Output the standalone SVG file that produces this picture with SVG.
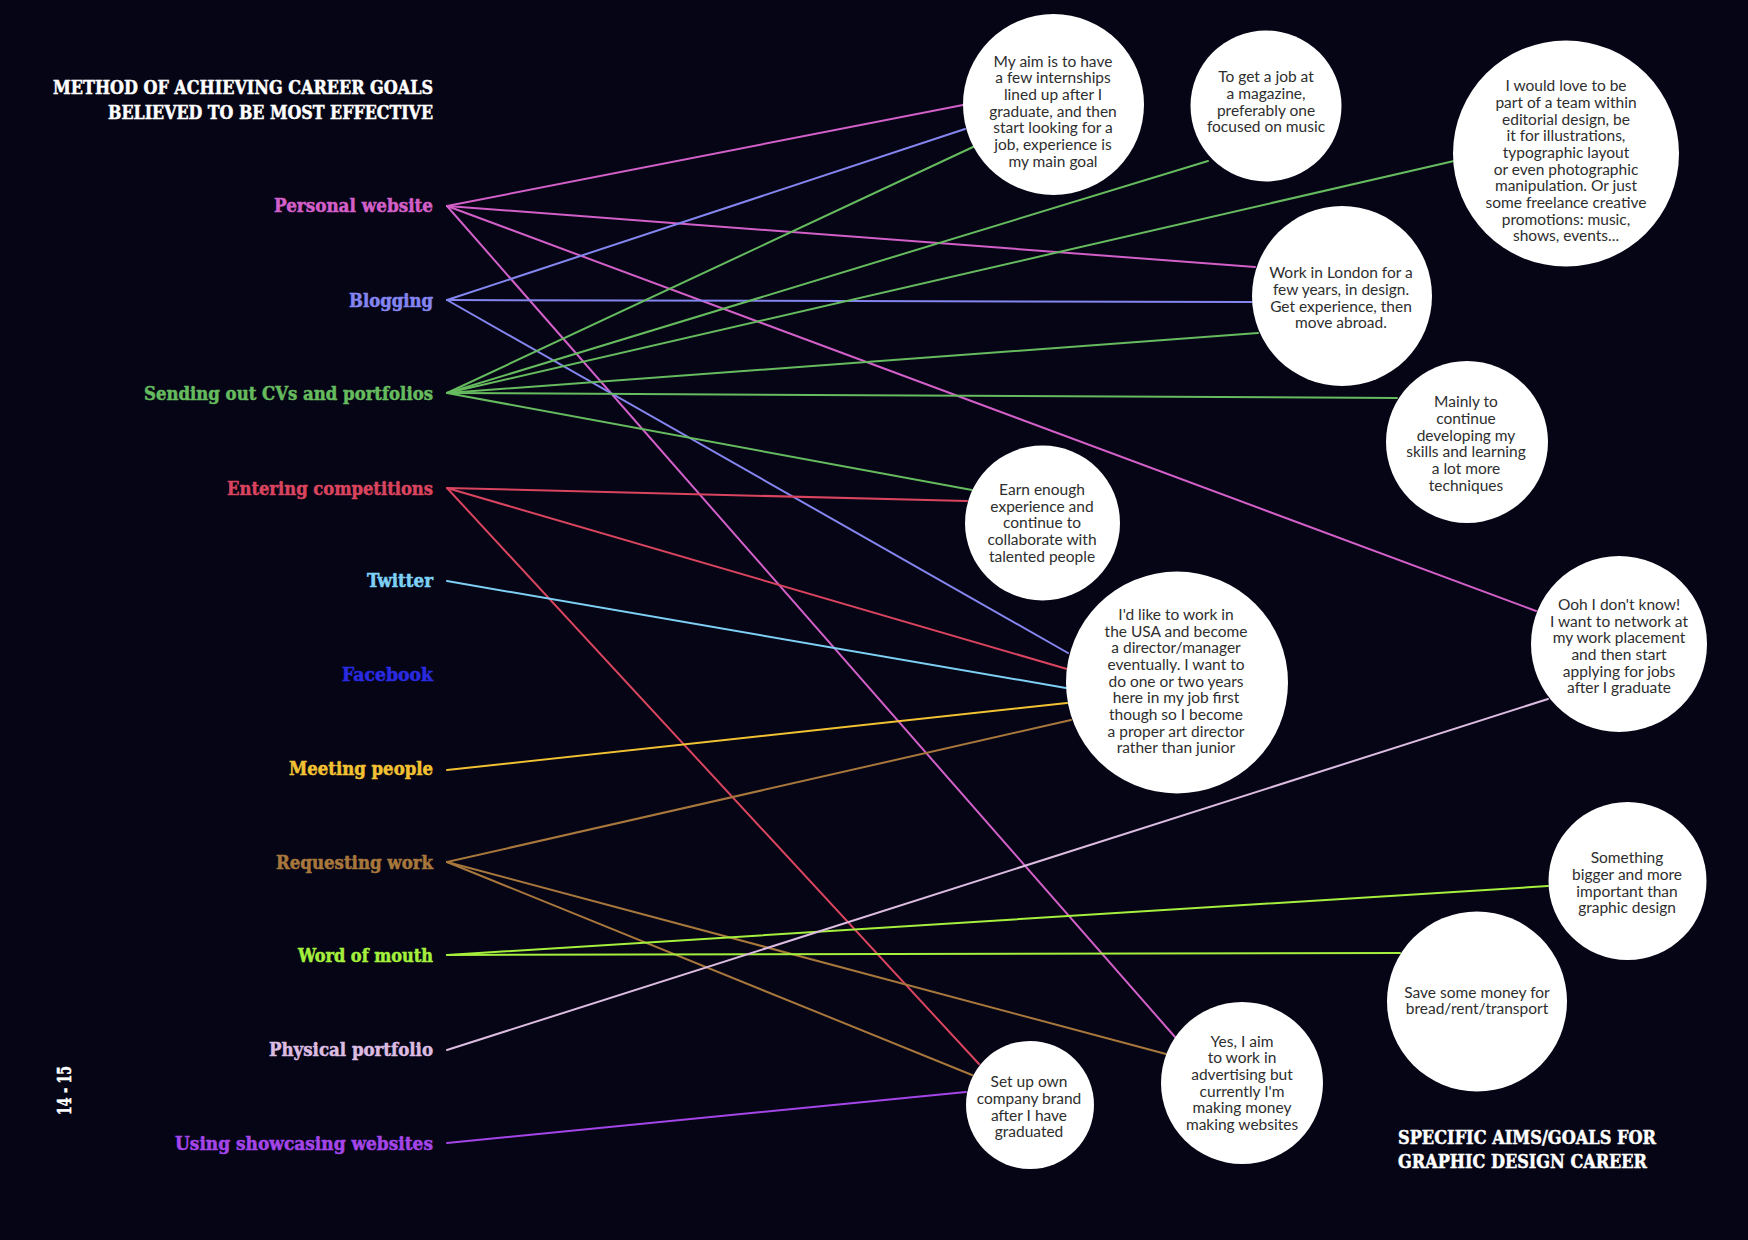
<svg xmlns="http://www.w3.org/2000/svg" width="1748" height="1240" viewBox="0 0 1748 1240">
<style>
.bg{fill:#050516}
.lbl{font-family:"DejaVu Serif Condensed","DejaVu Serif",serif;font-weight:bold;font-size:18px;font-stretch:condensed;text-anchor:end;stroke-width:0.5}
.hd{font-family:"DejaVu Serif Condensed","DejaVu Serif",serif;font-weight:bold;font-size:19px;font-stretch:condensed;fill:#ffffff;stroke:#ffffff;stroke-width:0.5}
.c{fill:#ffffff}
.ct{font-family:Lato,"Open Sans",sans-serif;font-size:15.5px;fill:#2e2e2e;text-anchor:middle}
.ln{fill:none;stroke-width:2;stroke-linecap:round}
.pw{stroke:#d35fc8}.bl{stroke:#8585f0}.cv{stroke:#66bb5e}.ec{stroke:#d9445e}.tw{stroke:#7ed0f5}
.mp{stroke:#f2c232}.rw{stroke:#a8773c}.wm{stroke:#a5f03c}.pp{stroke:#dcbce0}.us{stroke:#a445e8}
</style>
<rect class="bg" x="0" y="0" width="1748" height="1240"/>

<g id="titles">
<text class="hd" x="433" y="94" text-anchor="end" textLength="380" lengthAdjust="spacingAndGlyphs">METHOD OF ACHIEVING CAREER GOALS</text>
<text class="hd" x="433" y="119" text-anchor="end" textLength="325" lengthAdjust="spacingAndGlyphs">BELIEVED TO BE MOST EFFECTIVE</text>
<text class="hd" x="1398" y="1144" textLength="258" lengthAdjust="spacingAndGlyphs">SPECIFIC AIMS/GOALS FOR</text>
<text class="hd" x="1398" y="1168" textLength="249" lengthAdjust="spacingAndGlyphs">GRAPHIC DESIGN CAREER</text>
<text class="hd" x="0" y="0" text-anchor="middle" transform="translate(71 1090.5) rotate(-90)" textLength="49" lengthAdjust="spacingAndGlyphs">14 - 15</text>
</g>

<g id="connectors">
<line class="ln pw" x1="447" y1="206" x2="963" y2="105"/>
<line class="ln pw" x1="447" y1="206" x2="1255" y2="267"/>
<line class="ln pw" x1="447" y1="206" x2="1536" y2="611"/>
<line class="ln pw" x1="447" y1="206" x2="1175" y2="1037"/>
<line class="ln bl" x1="447" y1="300" x2="965" y2="129"/>
<line class="ln bl" x1="447" y1="300" x2="1252" y2="302"/>
<line class="ln bl" x1="447" y1="300" x2="1068" y2="653"/>
<line class="ln cv" x1="447" y1="393" x2="973" y2="147"/>
<line class="ln cv" x1="447" y1="393" x2="1208" y2="161"/>
<line class="ln cv" x1="447" y1="393" x2="1454" y2="161"/>
<line class="ln cv" x1="447" y1="393" x2="1258" y2="333"/>
<line class="ln cv" x1="447" y1="393" x2="1397" y2="398"/>
<line class="ln cv" x1="447" y1="393" x2="972" y2="490"/>
<line class="ln ec" x1="447" y1="488" x2="967" y2="501"/>
<line class="ln ec" x1="447" y1="488" x2="1067" y2="669"/>
<line class="ln ec" x1="447" y1="488" x2="979" y2="1064"/>
<line class="ln tw" x1="447" y1="581" x2="1066" y2="688"/>
<line class="ln mp" x1="447" y1="770" x2="1067" y2="703"/>
<line class="ln rw" x1="447" y1="862" x2="1071" y2="720"/>
<line class="ln rw" x1="447" y1="862" x2="1166" y2="1054"/>
<line class="ln rw" x1="447" y1="862" x2="972" y2="1075"/>
<line class="ln wm" x1="447" y1="955" x2="1548" y2="886"/>
<line class="ln wm" x1="447" y1="955" x2="1400" y2="953"/>
<line class="ln pp" x1="447" y1="1050" x2="1548" y2="699"/>
<line class="ln us" x1="447" y1="1143" x2="966" y2="1092"/>
</g>

<g id="labels">
<text id="m-personal" class="lbl" x="433" y="212" fill="#d35fc8" stroke="#d35fc8" textLength="159" lengthAdjust="spacingAndGlyphs">Personal website</text>
<text id="m-blogging" class="lbl" x="433" y="306.5" fill="#8585f0" stroke="#8585f0" textLength="84" lengthAdjust="spacingAndGlyphs">Blogging</text>
<text id="m-cvs" class="lbl" x="433" y="400" fill="#66bb5e" stroke="#66bb5e" textLength="289" lengthAdjust="spacingAndGlyphs">Sending out CVs and portfolios</text>
<text id="m-competitions" class="lbl" x="433" y="494.5" fill="#d9445e" stroke="#d9445e" textLength="206" lengthAdjust="spacingAndGlyphs">Entering competitions</text>
<text id="m-twitter" class="lbl" x="433" y="587" fill="#7ed0f5" stroke="#7ed0f5" textLength="66" lengthAdjust="spacingAndGlyphs">Twitter</text>
<text id="m-facebook" class="lbl" x="433" y="681" fill="#2a2ae0" stroke="#2a2ae0" textLength="91" lengthAdjust="spacingAndGlyphs">Facebook</text>
<text id="m-meeting" class="lbl" x="433" y="775" fill="#f2c232" stroke="#f2c232" textLength="144" lengthAdjust="spacingAndGlyphs">Meeting people</text>
<text id="m-requesting" class="lbl" x="433" y="869" fill="#a8773c" stroke="#a8773c" textLength="157" lengthAdjust="spacingAndGlyphs">Requesting work</text>
<text id="m-word" class="lbl" x="433" y="962" fill="#a5f03c" stroke="#a5f03c" textLength="135" lengthAdjust="spacingAndGlyphs">Word of mouth</text>
<text id="m-physical" class="lbl" x="433" y="1056" fill="#dcbce0" stroke="#dcbce0" textLength="164" lengthAdjust="spacingAndGlyphs">Physical portfolio</text>
<text id="m-showcasing" class="lbl" x="433" y="1150" fill="#a445e8" stroke="#a445e8" textLength="258" lengthAdjust="spacingAndGlyphs">Using showcasing websites</text>
</g>

<g id="goal-internships">
<circle class="c" cx="1053.5" cy="104.5" r="90.5"/>
<text class="ct" y="66.5"><tspan x="1053" dy="0">My aim is to have</tspan><tspan x="1053" dy="16.7">a few internships</tspan><tspan x="1053" dy="16.7">lined up after I</tspan><tspan x="1053" dy="16.7">graduate, and then</tspan><tspan x="1053" dy="16.7">start looking for a</tspan><tspan x="1053" dy="16.7">job, experience is</tspan><tspan x="1053" dy="16.7">my main goal</tspan></text>
</g>
<g id="goal-magazine">
<circle class="c" cx="1266" cy="106" r="75.5"/>
<text class="ct" y="82.2"><tspan x="1266" dy="0">To get a job at</tspan><tspan x="1266" dy="16.7">a magazine,</tspan><tspan x="1266" dy="16.7">preferably one</tspan><tspan x="1266" dy="16.7">focused on music</tspan></text>
</g>
<g id="goal-editorial">
<circle class="c" cx="1566" cy="153.5" r="113"/>
<text class="ct" y="91.2"><tspan x="1566" dy="0">I would love to be</tspan><tspan x="1566" dy="16.7">part of a team within</tspan><tspan x="1566" dy="16.7">editorial design, be</tspan><tspan x="1566" dy="16.7">it for illustrations,</tspan><tspan x="1566" dy="16.7">typographic layout</tspan><tspan x="1566" dy="16.7">or even photographic</tspan><tspan x="1566" dy="16.7">manipulation. Or just</tspan><tspan x="1566" dy="16.7">some freelance creative</tspan><tspan x="1566" dy="16.7">promotions: music,</tspan><tspan x="1566" dy="16.7">shows, events...</tspan></text>
</g>
<g id="goal-london">
<circle class="c" cx="1342" cy="296" r="90"/>
<text class="ct" y="278.2"><tspan x="1341" dy="0">Work in London for a</tspan><tspan x="1341" dy="16.7">few years, in design.</tspan><tspan x="1341" dy="16.7">Get experience, then</tspan><tspan x="1341" dy="16.7">move abroad.</tspan></text>
</g>
<g id="goal-skills">
<circle class="c" cx="1467" cy="442" r="81"/>
<text class="ct" y="407.2"><tspan x="1466" dy="0">Mainly to</tspan><tspan x="1466" dy="16.7">continue</tspan><tspan x="1466" dy="16.7">developing my</tspan><tspan x="1466" dy="16.7">skills and learning</tspan><tspan x="1466" dy="16.7">a lot more</tspan><tspan x="1466" dy="16.7">techniques</tspan></text>
</g>
<g id="goal-collaborate">
<circle class="c" cx="1042.5" cy="523" r="77.5"/>
<text class="ct" y="494.8"><tspan x="1042" dy="0">Earn enough</tspan><tspan x="1042" dy="16.7">experience and</tspan><tspan x="1042" dy="16.7">continue to</tspan><tspan x="1042" dy="16.7">collaborate with</tspan><tspan x="1042" dy="16.7">talented people</tspan></text>
</g>
<g id="goal-usa">
<circle class="c" cx="1177" cy="682.5" r="111"/>
<text class="ct" y="619.8"><tspan x="1176" dy="0">I'd like to work in</tspan><tspan x="1176" dy="16.7">the USA and become</tspan><tspan x="1176" dy="16.7">a director/manager</tspan><tspan x="1176" dy="16.7">eventually. I want to</tspan><tspan x="1176" dy="16.7">do one or two years</tspan><tspan x="1176" dy="16.7">here in my job first</tspan><tspan x="1176" dy="16.7">though so I become</tspan><tspan x="1176" dy="16.7">a proper art director</tspan><tspan x="1176" dy="16.7">rather than junior</tspan></text>
</g>
<g id="goal-network">
<circle class="c" cx="1619" cy="644" r="88"/>
<text class="ct" y="609.8"><tspan x="1619" dy="0">Ooh I don't know!</tspan><tspan x="1619" dy="16.7">I want to network at</tspan><tspan x="1619" dy="16.7">my work placement</tspan><tspan x="1619" dy="16.7">and then start</tspan><tspan x="1619" dy="16.7">applying for jobs</tspan><tspan x="1619" dy="16.7">after I graduate</tspan></text>
</g>
<g id="goal-bigger">
<circle class="c" cx="1627.5" cy="881" r="79"/>
<text class="ct" y="863.2"><tspan x="1627" dy="0">Something</tspan><tspan x="1627" dy="16.7">bigger and more</tspan><tspan x="1627" dy="16.7">important than</tspan><tspan x="1627" dy="16.7">graphic design</tspan></text>
</g>
<g id="goal-save">
<circle class="c" cx="1477" cy="1001.5" r="90"/>
<text class="ct" y="998.2"><tspan x="1477" dy="0">Save some money for</tspan><tspan x="1477" dy="16">bread/rent/transport</tspan></text>
</g>
<g id="goal-company">
<circle class="c" cx="1030" cy="1105" r="64"/>
<text class="ct" y="1087.2"><tspan x="1029" dy="0">Set up own</tspan><tspan x="1029" dy="16.7">company brand</tspan><tspan x="1029" dy="16.7">after I have</tspan><tspan x="1029" dy="16.7">graduated</tspan></text>
</g>
<g id="goal-advertising">
<circle class="c" cx="1242" cy="1083" r="81"/>
<text class="ct" y="1046.5"><tspan x="1242" dy="0">Yes, I aim</tspan><tspan x="1242" dy="16.7">to work in</tspan><tspan x="1242" dy="16.7">advertising but</tspan><tspan x="1242" dy="16.7">currently I'm</tspan><tspan x="1242" dy="16.7">making money</tspan><tspan x="1242" dy="16.7">making websites</tspan></text>
</g>
</svg>
